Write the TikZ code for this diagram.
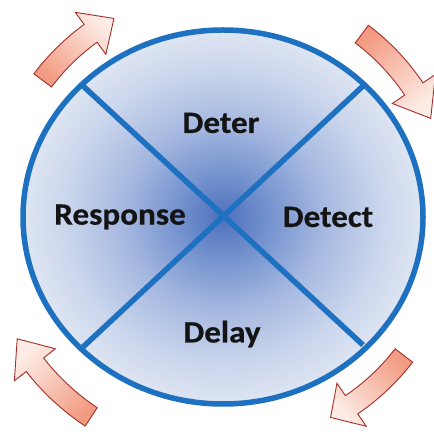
\documentclass[tikz,border=0pt]{standalone}
\usepackage{fontspec}
\setmainfont{Carlito}
\newfontfamily\lblfont{Carlito}[FakeBold=0.5]
\usepackage{graphicx}
\definecolor{ringblue}{RGB}{30,112,192}
\definecolor{dc0}{RGB}{78,112,188}
\definecolor{dc1}{RGB}{118,148,207}
\definecolor{dc2}{RGB}{165,184,224}
\definecolor{dc3}{RGB}{204,215,237}
\definecolor{dc4}{RGB}{222,229,242}
\definecolor{arrdark}{RGB}{243,155,130}
\definecolor{arrlight}{RGB}{253,236,230}
\definecolor{arredge}{RGB}{165,45,40}
\definecolor{txt}{RGB}{20,20,20}
\pgfdeclareradialshading{discshade}{\pgfpoint{0bp}{0bp}}{color(0bp)=(dc0); color(6bp)=(dc1); color(12.5bp)=(dc2); color(20bp)=(dc3); color(25bp)=(dc4); color(50bp)=(dc4)}
\tikzset{
  ring/.style={draw=ringblue, line width=5.5pt},
  spoke/.style={draw=ringblue, line width=5.5pt},
  label/.style={font=\lblfont\fontsize{31}{36}\selectfont\bfseries, text=txt, inner sep=0pt},
  cyc/.style={draw=arredge, line width=0.9pt, line join=miter, top color=arrlight, bottom color=arrdark},
}
% #1 tail angle, #2 head base angle, #3 tip angle, #4 radius, #5 shading angle
\newcommand\cyclearrow[5]{%
  \path[cyc, shading angle=#5]
    (#1:#4+11) arc[start angle=#1, end angle=#2, radius=#4+11]
    -- (#2:#4+26) -- (#3:#4) -- (#2:#4-26)
    -- (#2:#4-11) arc[start angle=#2, end angle=#1, radius=#4-11] -- cycle;
}
\begin{document}
\begin{tikzpicture}[x=1pt, y=1pt]
\useasboundingbox (0,0) rectangle (433,441);
\fill[white] (0,0) rectangle (433,441);
\coordinate (C) at (223,224);
% disc
\path[shading=discshade] (C) ellipse[x radius=200, y radius=187];
\coordinate (tl) at (82,356);
\coordinate (tr) at (363,355);
\coordinate (bl) at (83,94);
\coordinate (br) at (363,96);
\draw[spoke] (tl) -- (br);
\draw[spoke] (tr) -- (bl);
\draw[ring] (C) ellipse[x radius=200, y radius=187];
% labels
\node[label] (deter) at (221,318) {\scalebox{1.07}[1]{Deter}};
\node[label] (response) at (120,224) {\scalebox{1.07}[1]{Response}};
\node[label] (detect) at (328,224) {\scalebox{1.07}[1]{Detect}};
\node[label] (delay) at (222,107) {\scalebox{1.07}[1]{Delay}};
% cycle arrows
\begin{scope}[shift={(224,224)}]
  \cyclearrow{143}{126}{119}{227}{-45}
  \cyclearrow{53}{34}{25.5}{229}{-140}
  \cyclearrow{-37.6}{-55.8}{-62}{227}{135}
  \cyclearrow{236.4}{218}{210.5}{240}{46}
\end{scope}
\end{tikzpicture}
\end{document}
